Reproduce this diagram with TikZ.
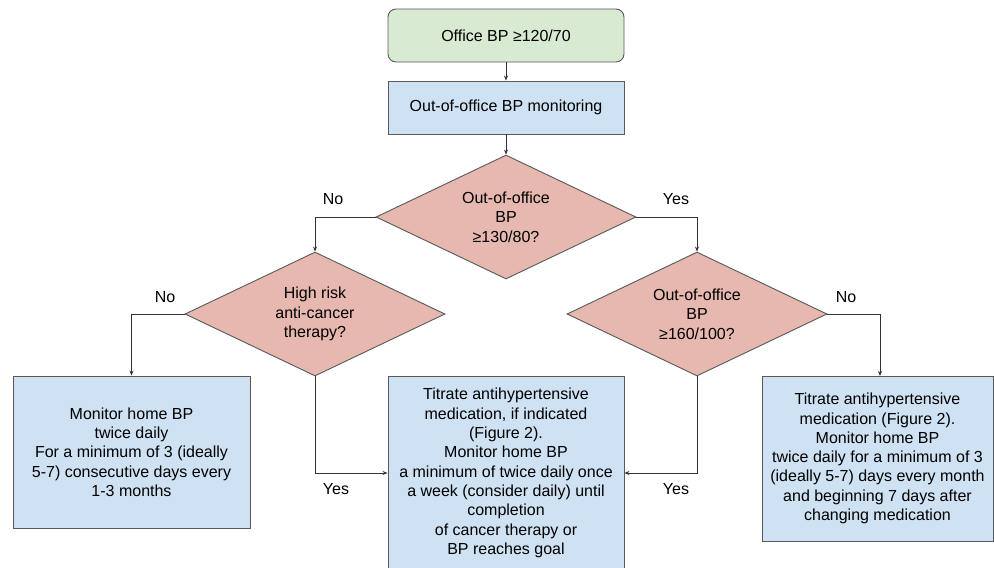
\documentclass[tikz,border=0pt]{standalone}
\usepackage{fontspec}
\setmainfont{Liberation Sans}
\usetikzlibrary{shapes.geometric,arrows.meta}
\definecolor{greenfill}{HTML}{D9EAD3}
\definecolor{bluefill}{HTML}{CFE2F3}
\definecolor{redfill}{HTML}{E6B8AF}
\definecolor{edgecol}{HTML}{595959}
\definecolor{linecol}{HTML}{333333}
\tikzset{
  base/.style={draw=edgecol, line width=0.9pt, inner sep=0pt, align=center,
    font=\fontsize{16}{19.3}\selectfont},
  startbox/.style={base, fill=greenfill, rounded corners=8pt, minimum width=236pt, minimum height=53pt},
  procbox/.style={base, fill=bluefill},
  decision/.style={base, fill=redfill, diamond, aspect=2.1, minimum width=260pt, minimum height=124pt},
  arr/.style={draw=linecol, line width=0.8pt, -{Stealth[length=5pt,width=4pt]}},
  lbl/.style={font=\fontsize{16}{19.3}\selectfont, inner sep=0pt}
}
\begin{document}
\begin{tikzpicture}[x=1pt,y=-1pt]
\useasboundingbox (0,0) rectangle (994,568);
\node[startbox] (start) at (506,35.5) {Office BP ≥120/70};
\node[procbox, minimum width=236pt, minimum height=53pt] (mon) at (506,107.5) {Out-of-office BP monitoring};
\node[decision] (d1) at (506,217) {Out-of-office\\BP\\≥130/80?};
\node[decision] (d2) at (315,314) {High risk\\anti-cancer\\therapy?};
\node[decision] (d3) at (697,314) {Out-of-office\\BP\\≥160/100?};
\node[procbox, minimum width=237pt, minimum height=152pt] (lb) at (131.5,452)
  {Monitor home BP\\twice daily\\For a minimum of 3 (ideally\\5-7) consecutive days every\\1-3 months};
\node[procbox, minimum width=236pt, minimum height=194pt] (mb) at (506,473)
  {Titrate antihypertensive\\medication, if indicated\\(Figure 2).\\Monitor home BP\\a minimum of twice daily once\\a week (consider daily) until\\completion\\of cancer therapy or\\BP reaches goal};
\node[procbox, minimum width=231pt, minimum height=165pt] (rb) at (877.5,458.5)
  {Titrate antihypertensive\\medication (Figure 2).\\Monitor home BP\\twice daily for a minimum of 3\\(ideally 5-7) days every month\\and beginning 7 days after\\changing medication};
\coordinate (rbin) at (880,376);
\draw[arr] (start) -- (mon);
\draw[arr] (mon) -- (d1);
\draw[arr] (d1.west) -| (d2.north);
\draw[arr] (d1.east) -| (d3.north);
\draw[arr] (d2.west) -| (lb.north);
\draw[arr] (d3.east) -| (rbin);
\draw[arr] (d2.south) |- (mb.west);
\draw[arr] (d3.south) |- (mb.east);
\node[lbl] (l1) at (333,199) {No};
\node[lbl] (l2) at (676,199) {Yes};
\node[lbl] (l3) at (165,297) {No};
\node[lbl] (l4) at (846,297) {No};
\node[lbl] (l5) at (336,489) {Yes};
\node[lbl] (l6) at (676,489) {Yes};
\end{tikzpicture}
\end{document}
